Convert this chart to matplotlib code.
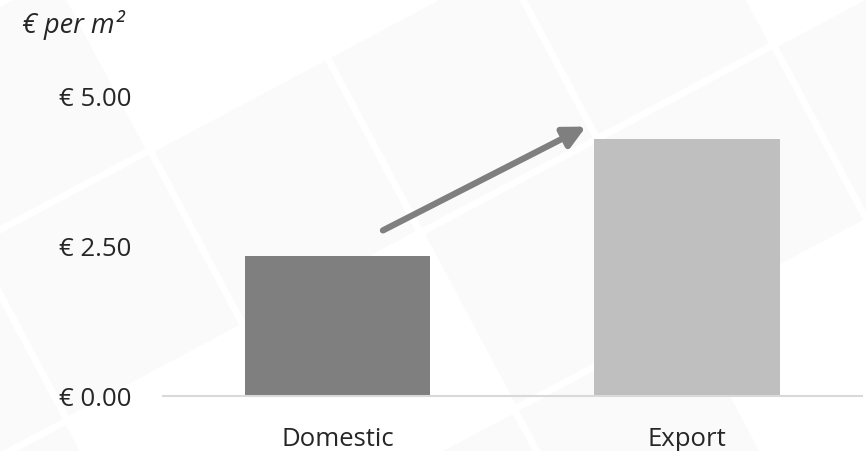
import numpy as np
import matplotlib
matplotlib.use('Agg')
from matplotlib import pyplot as plt
from matplotlib.patches import Polygon

plt.rcParams['font.family'] = ['Open Sans', 'DejaVu Sans']

categories = ['Domestic', 'Export']
price_per_m2 = [2.33, 4.28]
bar_colors = ['#7f7f7f', '#bfbfbf']
yticks = [0.0, 2.5, 5.0]
ytick_labels = ['€ 0.00', '€ 2.50', '€ 5.00']

fig = plt.figure(figsize=(8.66, 4.51), dpi=100)
fig.patch.set_facecolor('white')

# faint tiled backdrop, grid rotated a little off the horizontal
bg = fig.add_axes([0, 0, 1, 1], zorder=-1)
bg.set_xlim(0, 866)
bg.set_ylim(451, 0)
bg.axis('off')
ang = np.deg2rad(-28)
u = np.array([np.cos(ang), np.sin(ang)])
v = np.array([-np.sin(ang), np.cos(ang)])
size, gap = 200, 7
origin = np.array([150, 150])
for i in range(-5, 7):
    for j in range(-5, 6):
        if (i * 3 + j * 5) % 7 in (2, 5):
            continue
        p0 = origin + u * (i * size + gap / 2) + v * (j * size + gap / 2)
        s = size - gap
        pts = [p0, p0 + u * s, p0 + u * s + v * s, p0 + v * s]
        bg.add_patch(Polygon(pts, closed=True, facecolor='#fafafa', edgecolor='none'))

ax = fig.add_axes([162.75 / 866, 55 / 451, 699 / 866, 300 / 451])
ax.set_facecolor('none')
x = np.arange(len(categories))
ax.bar(x, price_per_m2, width=0.53, color=bar_colors, zorder=2)
ax.set_xlim(-0.5, 1.5)
ax.set_ylim(0, 5.0)

ax.set_xticks(x)
ax.set_xticklabels(categories, fontsize=18.5, color='#262626')
ax.set_yticks(yticks)
ax.set_yticklabels(ytick_labels, fontsize=18.5, color='#262626')
ax.tick_params(axis='both', length=0)
ax.tick_params(axis='y', pad=22.5)
ax.tick_params(axis='x', pad=22)
for side in ['top', 'right', 'left']:
    ax.spines[side].set_visible(False)
ax.spines['bottom'].set_color('#d9d9d9')
ax.spines['bottom'].set_linewidth(1.5)
ax.spines['bottom'].set_zorder(3)

ax.annotate('', xy=(0.711, 4.49), xytext=(0.130, 2.76),
            arrowprops=dict(arrowstyle='-|>,head_length=1.3,head_width=0.65',
                            color='#7f7f7f', lw=4.5, shrinkA=0, shrinkB=0),
            zorder=4)

fig.text(22 / 866, 1 - 25 / 451, '€ per m²', fontsize=19.5, style='italic',
         color='#262626', va='center', ha='left')

fig.savefig('out.png', dpi=100)
